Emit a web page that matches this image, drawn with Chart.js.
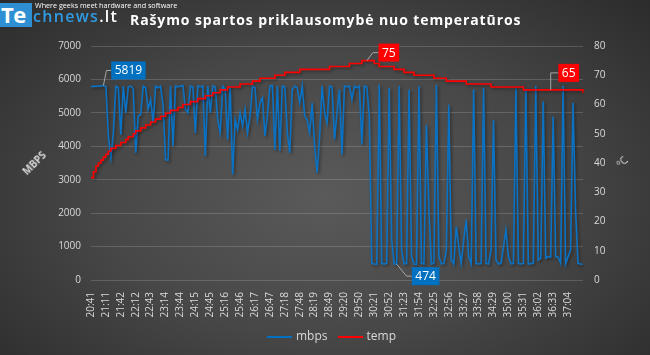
<!DOCTYPE html>
<html>
<head>
<meta charset="utf-8">
<script src="https://cdn.jsdelivr.net/npm/chart.js@4.4.1/dist/chart.umd.min.js"></script>
<style>
html,body{margin:0;padding:0;background:#333;}
#wrap{position:relative;width:650px;height:355px;overflow:hidden;
  background: radial-gradient(ellipse 70% 80% at 50% 55%, #5a5a5a 0%, #474747 50%, #2b2b2b 100%);
  font-family:'Open Sans',sans-serif;}
canvas{position:absolute;left:0;top:0;}
#logoBox{position:absolute;left:0;top:3px;width:32px;height:24px;background:#2f8fd3;overflow:hidden;}
#logoTe{position:absolute;left:1px;top:-4px;color:#fff;font:bold 22px 'Open Sans',sans-serif;letter-spacing:-0.5px;}
#logoRest{position:absolute;left:33px;top:5px;font:600 16px 'Open Sans',sans-serif;letter-spacing:1.3px;color:#2f9be2;white-space:nowrap;}
#logoRest span{color:#fff;}
#tagline{position:absolute;left:35px;top:0px;font:7.2px 'Open Sans',sans-serif;color:#fff;white-space:nowrap;}
#title{position:absolute;left:130px;top:10px;font:bold 14px 'Open Sans',sans-serif;letter-spacing:0.9px;color:#fff;white-space:nowrap;}
#legend{position:absolute;top:327px;left:267px;font:12px 'Open Sans',sans-serif;color:#d9d9d9;white-space:nowrap;}
#legend .sw{display:inline-block;width:25px;height:2px;vertical-align:middle;margin-right:4px;}
#legend .it{display:inline-block;margin-right:10px;}
.axt{position:absolute;font:bold 10px 'Open Sans',sans-serif;color:#d9d9d9;transform:translate(-50%,-50%) rotate(-45deg);white-space:nowrap;}
</style>
</head>
<body>
<div id="wrap">
  <canvas id="c" width="650" height="355"></canvas>
  <div id="logoBox"><div id="logoTe">Te</div></div>
  <div id="logoRest">chnews<span>.lt</span></div>
  <div id="tagline">Where geeks meet hardware and software</div>
  <div id="title">Rašymo spartos priklausomybė nuo temperatūros</div>
  <div class="axt" style="left:34px;top:163px;">MBPS</div>
  <div class="axt" style="left:622px;top:162px;font-weight:normal;">°C</div>
  <div id="legend"><span class="it"><span class="sw" style="background:#0070c0"></span>mbps</span><span class="it"><span class="sw" style="background:#ff0000"></span>temp</span></div>
</div>
<script>
const tickLabels = ['20:41','21:11','21:42','22:12','22:43','23:14','23:44','24:15','24:45','25:16','25:46','26:17','26:47','27:18','27:48','28:19','28:49','29:20','29:50','30:21','30:52','31:23','31:54','32:25','32:56','33:27','33:58','34:29','35:00','35:31','36:02','36:33','37:04'];
const pointsPerTick = 6;

const mbps = [
 5780,5800,5790,5810,5800,5819,5790,4300,3650,4400,
 5800,5760,4350,5800,5000,5780,5800,5720,3800,4900,
 4950,5800,5750,5100,5400,4700,5800,5750,5800,5200,
 3600,3580,5800,4000,5800,5780,5800,5820,5100,5000,
 5800,5780,4400,5800,5780,5800,3700,5800,5000,5800,
 5780,4800,4400,5800,5700,4200,5800,3150,4800,4500,
 5000,4600,5100,4400,4900,5800,5750,4800,5300,5450,
 4300,4900,5800,5820,3900,5800,3870,5800,5780,4400,
 3800,5700,5800,5750,5300,5800,4900,4800,4400,5300,
 4000,3200,4300,5800,5000,4700,5800,5780,4200,5000,
 5700,3750,5800,5780,5800,5400,5800,5750,5800,4050,
 5800,5780,4900,500,480,470,5840,490,480,500,
 5740,1200,480,474,5800,900,480,490,5700,700,
 480,470,5800,500,480,4640,2100,480,500,5840,
 700,480,490,900,5240,600,480,1600,1000,500,
 1200,1800,700,480,5700,500,480,490,5740,500,
 480,900,4790,600,480,500,1000,1500,700,480,
 490,5720,500,480,490,5720,480,490,500,5800,
 600,650,5340,650,700,680,4890,700,680,500,
 5800,480,700,900,5300,2100,500,480,470
];

const temp = [
 35,37,39,40,41,42,43,44,45,45,
 46,46,47,47,48,49,49,50,51,51,
 52,52,53,53,54,54,55,55,56,56,
 57,57,58,58,58,59,59,60,60,60,
 61,61,61,62,62,62,63,63,63,64,
 64,64,65,65,65,66,66,66,66,66,
 67,67,67,67,67,68,68,68,69,69,
 69,69,69,69,70,70,70,70,71,71,
 71,71,71,71,72,72,72,72,72,72,
 72,72,72,72,72,72,73,73,73,73,
 73,73,73,73,74,74,74,74,74,75,
 75,75,75,75,74,74,73,73,73,73,
 73,73,72,72,72,72,71,71,71,71,
 70,70,70,70,70,70,70,70,69,69,
 69,69,69,68,68,68,68,68,68,68,
 68,67,67,67,67,67,67,67,67,67,
 67,66,66,66,66,66,66,66,66,66,
 66,66,66,66,65,65,65,65,65,65,
 65,65,65,65,65,65,65,65,65,65,
 65,65,65,65,65,65,65,65,64
];

const xLabels = mbps.map((_, i) => i % pointsPerTick === 0 ? (tickLabels[i / pointsPerTick] || '') : '');

// callouts: dataset index, point index
const callouts = [
  {ds:0, idx:5,   bg:'#0070c0', dx:25, dy:-15, ex:3},
  {ds:0, idx:123, bg:'#0070c0', dx:29, dy:12,  ex:10},
  {ds:1, idx:111, bg:'#ff0000', dx:22, dy:-8,  ex:6},
  {ds:1, idx:185, bg:'#ff0000', dx:18, dy:-17, ex:0}
];

const shadowPlugin = {
  id:'shadow',
  beforeDatasetDraw(chart){ const c=chart.ctx; c.save(); c.shadowColor='rgba(0,0,0,0.4)'; c.shadowBlur=3; c.shadowOffsetX=1.5; c.shadowOffsetY=1.5; },
  afterDatasetDraw(chart){ chart.ctx.restore(); }
};

const calloutPlugin = {
  id:'callouts',
  afterDatasetsDraw(chart){
    const c = chart.ctx;
    c.save();
    c.font = '12px "Open Sans", sans-serif';
    callouts.forEach(o => {
      const p = chart.getDatasetMeta(o.ds).data[o.idx];
      const val = chart.data.datasets[o.ds].data[o.idx];
      const txt = String(val);
      const w = c.measureText(txt).width + 7, h = 18;
      const cx = p.x + o.dx, cy = p.y + o.dy;
      const left = cx - w/2;
      c.strokeStyle = '#a6a6a6'; c.lineWidth = 1;
      c.beginPath(); c.moveTo(p.x, p.y); c.lineTo(p.x + o.ex, cy); c.lineTo(left, cy); c.stroke();
      c.fillStyle = o.bg; c.fillRect(left, cy - h/2, w, h);
      c.fillStyle = '#ffffff'; c.textAlign='center'; c.textBaseline='middle';
      c.fillText(txt, cx, cy + 0.5);
    });
    c.restore();
  }
};

const tickFont = {family:'"Open Sans", sans-serif', size:10};

new Chart(document.getElementById('c'), {
  type:'line',
  data:{
    labels: xLabels,
    datasets:[
      {label:'mbps', data:mbps, yAxisID:'y', borderColor:'#0a72c4', backgroundColor:'#0a72c4', borderWidth:1.6, pointRadius:0, tension:0, order:1},
      {label:'temp', data:temp, yAxisID:'y1', borderColor:'#ff0000', backgroundColor:'#ff0000', borderWidth:1.6, pointRadius:0, stepped:true, order:0}
    ]
  },
  plugins:[shadowPlugin, calloutPlugin],
  options:{
    responsive:false, animation:false,
    layout:{padding:{top:46, bottom:30, left:0, right:0}},
    plugins:{legend:{display:false}, tooltip:{enabled:false}},
    scales:{
      x:{type:'category', offset:false, grid:{display:false}, border:{display:false},
         ticks:{autoSkip:false, minRotation:90, maxRotation:90, color:'#d9d9d9', font:tickFont, padding:4},
         afterFit:s=>{s.height=45;}},
      y:{position:'left', min:0, max:7000,
         ticks:{stepSize:1000, color:'#d9d9d9', font:tickFont, padding:10, callback:v=>String(v)},
         grid:{color:'rgba(255,255,255,0.16)', drawTicks:false}, border:{display:false},
         afterFit:s=>{s.width=91;}},
      y1:{position:'right', min:0, max:80,
         ticks:{stepSize:10, color:'#d9d9d9', font:tickFont, padding:11, callback:v=>String(v)},
         grid:{drawOnChartArea:false, drawTicks:false}, border:{display:false},
         afterFit:s=>{s.width=67;}}
    }
  }
});
</script>
</body>
</html>
